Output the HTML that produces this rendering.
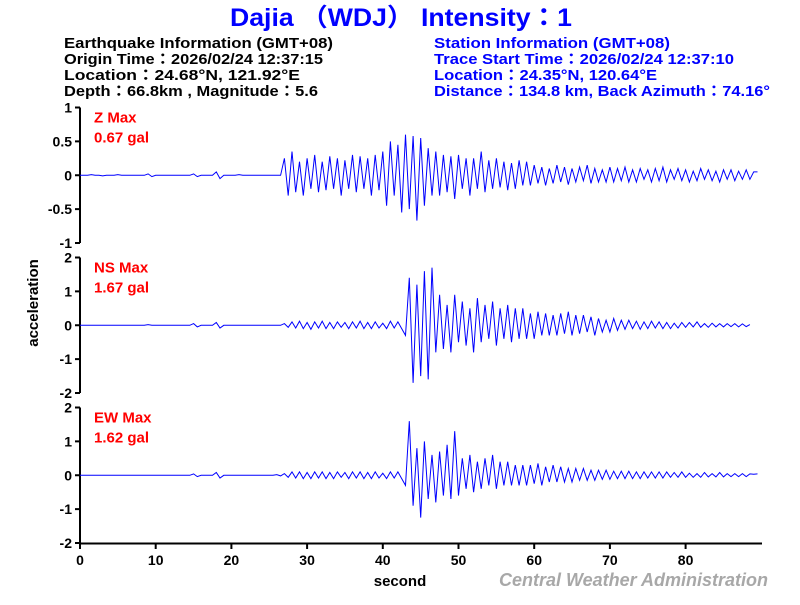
<!DOCTYPE html>
<html><head><meta charset="utf-8"><style>
body{margin:0;background:#fff;width:800px;height:600px;overflow:hidden}
svg{font-family:"Liberation Sans","Noto Sans CJK TC",Arial,sans-serif;font-weight:bold}
</style></head><body>
<svg id="c" width="800" height="600" viewBox="0 0 800 600">
<text x="230" y="26" textLength="342" lengthAdjust="spacingAndGlyphs" font-size="25" fill="#0000ff">Dajia （WDJ） Intensity：1</text>
<g font-size="15" fill="#000">
<text x="64" y="48" textLength="269" lengthAdjust="spacingAndGlyphs">Earthquake Information  (GMT+08)</text>
<text x="64" y="64" textLength="259" lengthAdjust="spacingAndGlyphs">Origin Time：2026/02/24 12:37:15</text>
<text x="64" y="80" textLength="236" lengthAdjust="spacingAndGlyphs">Location：24.68°N, 121.92°E</text>
<text x="64" y="96" textLength="254" lengthAdjust="spacingAndGlyphs">Depth：66.8km , Magnitude：5.6</text>
</g>
<g font-size="15" fill="#0000ff">
<text x="434" y="48" textLength="236" lengthAdjust="spacingAndGlyphs">Station Information  (GMT+08)</text>
<text x="434" y="64" textLength="300" lengthAdjust="spacingAndGlyphs">Trace Start Time：2026/02/24 12:37:10</text>
<text x="434" y="80" textLength="223" lengthAdjust="spacingAndGlyphs">Location：24.35°N, 120.64°E</text>
<text x="434" y="96" textLength="336" lengthAdjust="spacingAndGlyphs">Distance：134.8 km, Back Azimuth：74.16°</text>
</g>
<g id="axes" stroke="#000" stroke-width="2" fill="none"></g>
<g id="labels" font-size="14" fill="#000"></g>
<g id="traces" stroke="#0000ff" stroke-width="1" fill="none"></g>
<text x="400" y="586" text-anchor="middle" font-size="15" fill="#000">second</text>
<text transform="translate(38,303) rotate(-90)" text-anchor="middle" font-size="15" fill="#000">acceleration</text>
<text x="768" y="586" text-anchor="end" font-size="18" font-style="italic" fill="#a8a8a8">Central Weather Administration</text>
</svg>
<script>
const xTicks=[0,10,20,30,40,50,60,70,80];
const panelNames=["Z","NS","EW"];
const panelMax=["0.67 gal","1.67 gal","1.62 gal"];
const panelRange=[1,2,2];
const zTicks=[1,0.5,0,-0.5,-1];
const nsTicks=[2,1,0,-1,-2];
const ewTicks=[2,1,0,-1,-2];
const dt=0.5;
const zVals=[0,0,0,0.01,0,0,-0.01,0,0,0,0.01,0,0,0,0,0,0,0,0.02,-0.02,0,0,0,0,0,0,0,0,0,0,0.02,-0.02,0,0,0,0,0.05,-0.05,0,0,0,0,0.01,0,0,0,0,0,0,0,0,0,0,0,
0.25,-0.3,0.35,-0.25,0.2,-0.3,0.25,-0.2,0.3,-0.25,0.2,-0.22,0.28,-0.2,0.25,-0.3,0.22,-0.2,0.3,-0.25,0.28,-0.2,0.25,-0.3,0.3,-0.22,
0.35,-0.45,0.5,-0.3,0.45,-0.55,0.6,-0.5,0.58,-0.67,0.55,-0.45,0.4,-0.3,
0.35,-0.3,0.3,-0.25,0.28,-0.35,0.3,-0.2,0.25,-0.3,0.25,-0.2,0.35,-0.25,0.22,-0.2,0.25,-0.18,0.2,-0.22,0.18,-0.2,0.22,-0.15,0.2,-0.15,
0.15,-0.12,0.12,-0.15,0.1,-0.12,0.15,-0.1,0.12,-0.14,0.1,-0.1,0.12,-0.08,0.15,-0.12,0.1,-0.1,0.08,-0.1,0.12,-0.1,0.1,-0.08,0.12,-0.1,0.08,-0.1,0.1,-0.06,
0.08,-0.1,0.1,-0.08,0.12,-0.1,0.08,-0.06,0.1,-0.08,0.08,-0.1,0.06,-0.08,0.1,-0.06,0.08,-0.08,0.06,-0.1,0.08,-0.06,0.08,-0.08,0.06,-0.06,0.08,-0.06,0.05,0.05];
const nsVals=[0,0,0,0,0,0,0,0,0,0,0,0,0,0,0,0,0,0,0.02,0,0,0,0,0,0,0,0,0,0,0,0.05,-0.05,0,0,0,0,0.08,-0.08,0,0,0,0,0,0,0,0,0,0,0,0,0,0,0,0,
0.05,-0.06,0.1,-0.08,0.12,-0.1,0.08,-0.12,0.1,-0.08,0.12,-0.1,0.08,-0.1,0.1,-0.06,0.08,-0.1,0.1,-0.08,0.12,-0.1,0.08,-0.1,0.1,-0.08,0.06,-0.1,0.12,-0.08,0.1,-0.1,
-0.3,1.4,-1.7,1.2,-1.5,1.6,-1.6,1.7,-0.8,0.9,-0.7,0.6,-0.8,0.9,-0.5,0.7,-0.6,0.5,-0.8,0.8,-0.5,0.6,-0.4,0.7,-0.6,0.5,-0.4,0.6,-0.5,0.5,
-0.4,0.5,-0.4,0.35,-0.4,0.4,-0.3,0.35,-0.3,0.3,-0.3,0.35,-0.25,0.4,-0.3,0.3,-0.25,0.3,-0.2,0.25,-0.3,0.2,-0.2,0.15,-0.2,0.2,-0.15,0.15,-0.12,0.15,
-0.1,0.12,-0.12,0.1,-0.1,0.12,-0.08,0.1,-0.1,0.08,-0.1,0.06,-0.08,0.08,-0.06,0.08,-0.05,0.1,-0.06,0.05,-0.06,0.06,-0.05,0.05,-0.05,0.05,-0.04,0.05,-0.05,0.04,-0.04,0.02];
const ewVals=[0,0,0,0,0,0,0,0,0,0,0,0,0,0,0,0,0,0,0,0,0,0,0,0,0,0,0,0,0,0,0.04,-0.04,0,0,0,0,0.08,-0.08,0,0,0,0,0,0,0,0,0,0,0,0,0,0,0.02,-0.02,
0.05,-0.06,0.1,-0.08,0.1,-0.1,0.08,-0.1,0.1,-0.08,0.1,-0.1,0.08,-0.1,0.1,-0.06,0.08,-0.1,0.1,-0.08,0.1,-0.1,0.08,-0.1,0.1,-0.08,0.06,-0.1,0.1,-0.08,0.1,-0.1,
-0.3,1.6,-0.9,0.8,-1.25,1.0,-0.7,0.6,-0.8,0.7,-0.6,0.9,-0.7,1.3,-0.6,0.5,-0.4,0.6,-0.5,0.4,-0.4,0.5,-0.3,0.6,-0.4,0.4,-0.3,0.4,-0.3,0.3,
-0.3,0.3,-0.3,0.3,-0.25,0.35,-0.3,0.25,-0.2,0.3,-0.2,0.25,-0.2,0.2,-0.2,0.2,-0.15,0.2,-0.15,0.15,-0.15,0.15,-0.12,0.15,-0.12,0.12,-0.1,0.12,-0.1,0.12,
-0.1,0.1,-0.1,0.1,-0.08,0.1,-0.08,0.1,-0.08,0.1,-0.06,0.08,-0.06,0.1,-0.06,0.06,-0.06,0.05,-0.06,0.08,-0.05,0.05,-0.05,0.08,-0.05,0.05,-0.04,0.05,-0.04,0.05,-0.04,0.04,0.03,0.04];
const series=[zVals,nsVals,ewVals];
const tickSets=[zTicks,nsTicks,ewTicks];
const NS="http://www.w3.org/2000/svg";
const x0=80,pxPerSec=7.57;
const panelTop=[107.5,257.5,407.5],panelH=135.5;
function xs(t){return x0+t*pxPerSec;}
function ys(p,v){const r=panelRange[p];return panelTop[p]+(r-v)/(2*r)*panelH;}
function mk(tag,attrs,parent){const e=document.createElementNS(NS,tag);for(const k in attrs)e.setAttribute(k,attrs[k]);parent.appendChild(e);return e;}
const axes=document.getElementById('axes'),labels=document.getElementById('labels'),traces=document.getElementById('traces');
for(let p=0;p<3;p++){
  const sp=mk('line',{x1:x0,x2:x0,y1:panelTop[p],y2:panelTop[p]+panelH},axes);
  
  
  tickSets[p].forEach(v=>{
    const y=ys(p,v);
    const tk=mk('line',{x1:x0-5,x2:x0,y1:y,y2:y},axes);
    
    
    const tl=mk('text',{x:x0-8,y:y+5,'text-anchor':'end'},labels);
    tl.textContent=v;
    
    
  });
  const n=mk('text',{x:94,y:panelTop[p]+15,fill:'#ff0000','font-size':'15'},labels);
  n.textContent=panelNames[p]+' Max';
  
  
  const m=mk('text',{x:94,y:panelTop[p]+35,fill:'#ff0000','font-size':'15'},labels);
  m.textContent=panelMax[p];
  
  
  const pts=series[p].map((v,i)=>xs(i*dt).toFixed(1)+','+ys(p,v).toFixed(1)).join(' ');
  const pl=mk('polyline',{points:pts},traces);
  
  
}
const xa=mk('line',{x1:x0,x2:762,y1:543.5,y2:543.5},axes);


xTicks.forEach(t=>{
  const x=xs(t);
  const tk=mk('line',{x1:x,x2:x,y1:543,y2:549},axes);
  
  
  const tl=mk('text',{x:x,y:565,'text-anchor':'middle'},labels);
  tl.textContent=t;
  
  
});
</script>
</body></html>
